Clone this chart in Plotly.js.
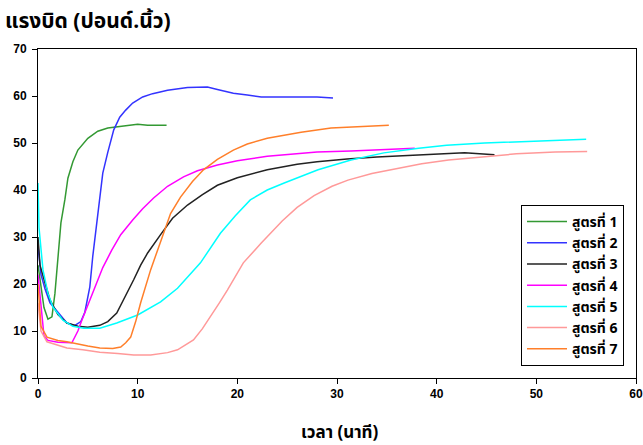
<!DOCTYPE html>
<html>
<head>
<meta charset="utf-8">
<script src="https://cdn.plot.ly/plotly-3.0.1.min.js"></script>
<style>html,body{margin:0;padding:0;background:#fff;}#chart{width:643px;height:445px;}</style>
</head>
<body>
<div id="chart"></div>
<script>
const seriesNames = ['สูตรที่ 1','สูตรที่ 2','สูตรที่ 3','สูตรที่ 4','สูตรที่ 5','สูตรที่ 6','สูตรที่ 7'];
const seriesColors = ['#339933','#3333FF','#222222','#FF00FF','#00FFFF','#FF9999','#FF7F2A'];

const x1 = [0,0.3,0.6,1.0,1.4,1.7,2.0,2.3,2.7,3.0,3.5,4,5,6,7,8,9,10,11,12,12.9];
const y1 = [24,20,15,12.5,13,18,26,33,38,42.5,46,48.5,51,52.5,53.2,53.5,53.8,54,53.8,53.8,53.8];

const x2 = [0,0.3,0.7,1.2,2,2.9,3.7,4.3,4.7,5.2,5.5,5.9,6.5,7.0,7.6,8.2,8.8,9.5,10.5,11.5,13,15,17,18,19.6,21,22.4,25,28,29.6];
const y2 = [28,22,19,16,14,11.7,11.2,12,14,19.4,26,33.6,43.6,48,52.8,55.5,57,58.5,59.8,60.5,61.2,61.8,61.9,61.4,60.6,60.2,59.8,59.8,59.8,59.6];

const x3 = [0,0.2,0.6,1.2,2,2.9,4,5,6.2,7,7.9,8.7,9.6,10.3,11,12.3,13.5,15,16.5,18,20,23,26,28,31,34,37.5,40,42.8,45.8];
const y3 = [30,24,21,16.6,13.5,11.7,11,10.8,11.2,12,13.8,17,20.9,24,26.6,30.5,34,36.8,39,41,42.6,44.3,45.5,46,46.6,47,47.4,47.6,47.9,47.5];

const x4 = [0,0.3,0.6,1,2,3.4,4,4.4,5,5.7,6.5,7.4,8.3,9.5,10.5,11.6,13,14.6,16,18,20,23,26,28,31.4,34,37.8];
const y4 = [22,15,9,8,7.6,7.5,10,12.3,15.5,19.4,23.5,27.2,30.5,33.6,36,38.3,40.8,42.8,44.1,45.3,46.2,47.2,47.8,48.1,48.3,48.6,48.9];

const x5 = [0,0.1,0.5,1,1.5,2.5,3.5,4.6,6.2,7.9,10,12.3,14,16.3,18.3,19.8,21.3,23,24.7,26.5,28.1,31.4,34.7,38.2,41,44.8,50,55];
const y5 = [41.5,32,23,18,15.1,12.3,11,10.6,10.6,11.7,13.4,16.2,19.1,24.5,30.8,34.5,37.9,40,41.5,43,44.3,46.4,47.9,48.9,49.5,50,50.4,50.8];

const x6 = [0,0.3,0.9,2,2.9,4.5,6.2,8,9.6,11.3,12.3,13,14,14.8,15.6,16.5,17.3,18.2,19,20.6,22.4,24.5,26,27.7,29.5,31.1,33.5,36.2,38.5,41.2,44.5,46,48,51.9,55.1];
const y6 = [16,10,7.7,7,6.4,6,5.5,5.2,4.9,4.9,5.1,5.4,6,7,8.1,10.5,13,16,18.7,24.5,28.7,33.4,36.3,38.8,40.8,42.1,43.5,44.7,45.6,46.4,47,47.4,47.7,48.1,48.2];

const x7 = [0,0.3,0.9,2,2.9,4,5,6.2,7.5,8.3,8.8,9.3,9.8,10.3,10.8,11.3,12.3,13.3,14.3,15.5,16.6,18,19.6,21,23,26.4,29.4,32,35.2];
const y7 = [20,11,8.7,8,7.7,7.2,6.8,6.4,6.3,6.6,7.5,8.7,12,16,19.5,23,29,35,38.5,41.8,44.3,46.5,48.5,49.8,51,52.3,53.2,53.4,53.8];

const xTickVals = [0,10,20,30,40,50,60];
const yTickVals = [0,10,20,30,40,50,60,70];

const xs = [x1,x2,x3,x4,x5,x6,x7];
const ys = [y1,y2,y3,y4,y5,y6,y7];

const traces = xs.map((xv,i)=>({
  x: xv, y: ys[i], name: seriesNames[i], type: 'scatter', mode: 'lines',
  line: {color: seriesColors[i], width: 1.5}
}));

const thaiFont = 'Tahoma, "Noto Sans Thai", "Noto Sans", sans-serif';
const tickFont = {family: '"Liberation Sans", Arial, sans-serif', size: 12, color: '#000', weight: 'bold'};

const layout = {
  width: 643, height: 445,
  margin: {l: 38, r: 7, t: 49, b: 67},
  paper_bgcolor: '#fff', plot_bgcolor: '#fff',
  showlegend: true,
  title: {text: 'แรงบิด (ปอนด์.นิ้ว)', x: 5/643, xanchor: 'left', xref: 'container', yref: 'container', y: 1-21/445, yanchor: 'middle',
          font: {family: thaiFont, size: 21, color: '#000', weight: 'bold'}},
  xaxis: {range: [0,60], tickvals: xTickVals, ticktext: xTickVals.map(String), showgrid: false, zeroline: false,
          showline: true, linecolor: '#000', linewidth: 1, mirror: true, ticks: 'outside', ticklen: 5, tickcolor: '#000',
          tickfont: tickFont},
  yaxis: {range: [0,70], tickvals: yTickVals, ticktext: yTickVals.map(String), showgrid: false, zeroline: false,
          showline: true, linecolor: '#000', linewidth: 1, mirror: true, ticks: 'outside', ticklen: 5, tickcolor: '#000',
          tickfont: tickFont, ticklabelstandoff: 3},
  annotations: [{text: 'เวลา (นาที)', xref: 'paper', yref: 'paper', x: 0.505, y: (378-433)/329, xanchor: 'center', yanchor: 'middle',
                 showarrow: false, font: {family: thaiFont, size: 17, color: '#000', weight: 'bold'}}],
  legend: {x: (521-38)/598, y: (378-205)/329, xanchor: 'left', yanchor: 'top', bgcolor: '#fff', bordercolor: '#000', borderwidth: 1,
           font: {family: thaiFont, size: 14, color: '#000', weight: 'bold'}, itemwidth: 40}
};

Plotly.newPlot('chart', traces, layout, {displayModeBar: false, staticPlot: true});
</script>
</body>
</html>
